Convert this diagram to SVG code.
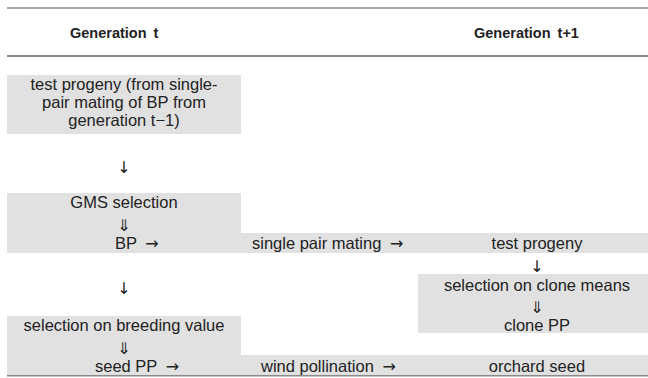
<svg xmlns="http://www.w3.org/2000/svg" width="648" height="378" viewBox="0 0 648 378">
<style>
  .t{font-family:"Liberation Sans",Arial,sans-serif;font-size:16.5px;fill:#222;}
  .a{font-family:"DejaVu Sans",sans-serif;font-size:16px;fill:#222;}
  .h{font-family:"Liberation Sans",Arial,sans-serif;font-size:14.5px;font-weight:bold;fill:#222;}
  .c{text-anchor:middle;}
  .box{fill:#e1e1e1;}
  .rule{stroke:#8a8a8a;fill:none;}
</style>
<rect width="648" height="378" fill="#ffffff"/>
<g id="rules">
  <line class="rule" x1="7" y1="8" x2="648" y2="8" stroke-width="1.5"/>
  <line class="rule" x1="7" y1="56" x2="648" y2="56" stroke-width="2"/>
  <line class="rule" x1="7" y1="375.5" x2="648" y2="375.5" stroke-width="2"/>
</g>
<g id="headers">
  <text class="h" x="70" y="38">Generation <tspan dx="3">t</tspan></text>
  <text class="h" x="474" y="38">Generation <tspan dx="3">t+1</tspan></text>
</g>
<g id="node-test-progeny-t">
  <rect class="box" x="7" y="75" width="234" height="59"/>
  <text class="t c" x="124" y="90">test progeny (from single-</text>
  <text class="t c" x="124" y="108">pair mating of BP from</text>
  <text class="t c" x="124" y="126">generation  t−1)</text>
</g>
<g id="node-gms-bp">
  <path class="box" d="M7,193 H241 V233 H648 V253 H7 Z"/>
  <text class="t c" x="124" y="208">GMS selection</text>
  <text class="a c" x="124" y="231">⇓</text>
  <text class="t" x="115" y="249">BP <tspan class="a" dx="4">→</tspan></text>
</g>
<g id="node-single-pair-mating">
  <text class="t" x="252" y="249">single pair mating <tspan class="a" dx="4">→</tspan></text>
</g>
<g id="node-test-progeny-t1">
  <text class="t c" x="537" y="249">test progeny</text>
</g>
<g id="node-clone">
  <rect class="box" x="418" y="274" width="230" height="59"/>
  <text class="t c" x="537" y="291">selection on clone means</text>
  <text class="a c" x="537" y="313">⇓</text>
  <text class="t c" x="537" y="331">clone PP</text>
</g>
<g id="node-seed">
  <path class="box" d="M7,316 H241 V355 H648 V375 H7 Z"/>
  <text class="t c" x="124" y="331">selection on breeding value</text>
  <text class="a c" x="124" y="354">⇓</text>
  <text class="t" x="95" y="372">seed PP <tspan class="a" dx="4">→</tspan></text>
</g>
<g id="node-wind-pollination">
  <text class="t" x="261" y="372">wind pollination <tspan class="a" dx="4">→</tspan></text>
</g>
<g id="node-orchard-seed">
  <text class="t c" x="537" y="372">orchard seed</text>
</g>
<g id="connectors">
  <text class="a c" x="124" y="173">↓</text>
  <text class="a c" x="124" y="294">↓</text>
  <text class="a c" x="537" y="272">↓</text>
</g>
</svg>
